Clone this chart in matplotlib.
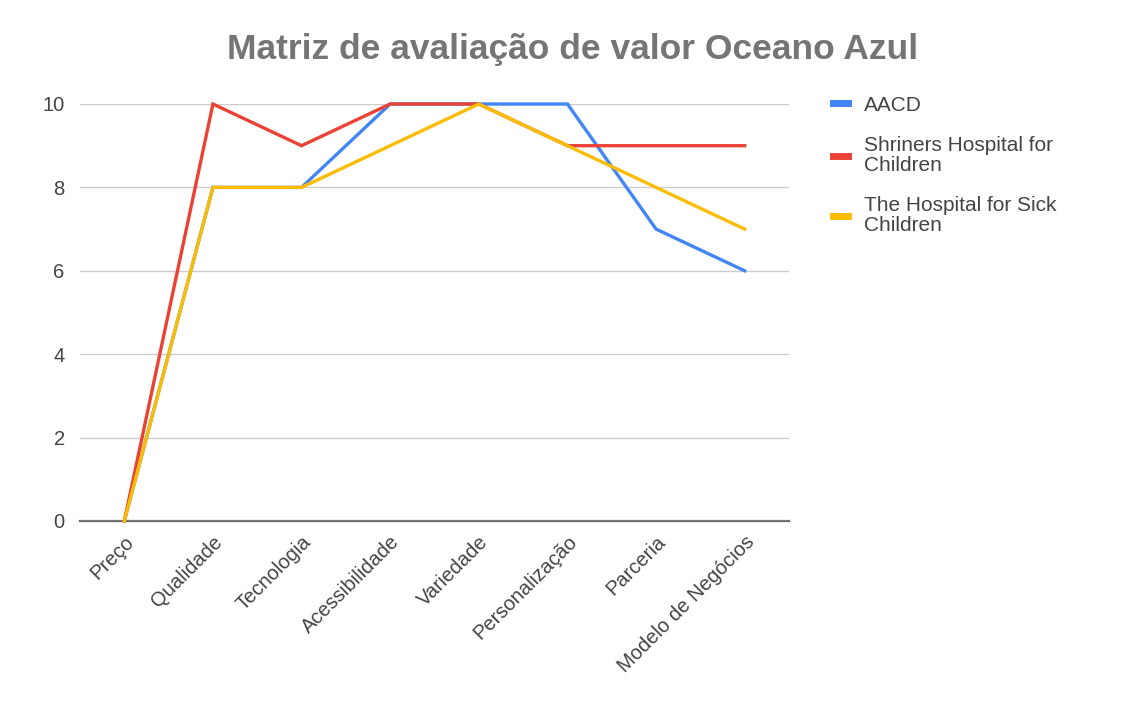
import matplotlib
matplotlib.use('Agg')
import matplotlib.pyplot as plt

plt.rcParams['font.family'] = ['Liberation Sans', 'DejaVu Sans']

categories = ['Preço', 'Qualidade', 'Tecnologia', 'Acessibilidade', 'Variedade',
              'Personalização', 'Parceria', 'Modelo de Negócios']
aacd = [0, 8, 8, 10, 10, 10, 7, 6]
shriners = [0, 10, 9, 10, 10, 9, 9, 9]
sick_children = [0, 8, 8, 9, 10, 9, 8, 7]
series_names = ['AACD', 'Shriners Hospital for\nChildren', 'The Hospital for Sick\nChildren']
series_colors = ['#4285f4', '#ea4335', '#fbbc04']

fig = plt.figure(figsize=(11.47, 7.11), dpi=100)
ax = fig.add_axes([80/1147, 1-521/711, (789-80)/1147, (521-104)/711])

x = range(len(categories))
for vals, name, c in zip([aacd, shriners, sick_children], series_names, series_colors):
    ax.plot(x, vals, color=c, lw=2.4, label=name, clip_on=False, solid_joinstyle='miter')

ax.set_xlim(-0.5, len(categories) - 0.5)
ax.set_ylim(0, 10)
ax.set_yticks([0, 2, 4, 6, 8, 10])
ax.grid(axis='y', color='#cccccc', lw=1)
ax.set_axisbelow(True)
for s in ['top', 'right', 'left']:
    ax.spines[s].set_visible(False)
ax.spines['bottom'].set_color('#666666')
ax.spines['bottom'].set_linewidth(1.6)
ax.spines['bottom'].set_zorder(0.5)
ax.tick_params(length=0, labelsize=14.5, labelcolor='#444444')
ax.tick_params(axis='y', pad=11)
ax.set_xticks(list(x))
ax.set_xticklabels(categories, rotation=45, ha='right', rotation_mode='anchor')
ax.tick_params(axis='x', pad=8)

fig.text(573/1147, 1-50/711, 'Matriz de avaliação de valor Oceano Azul',
         ha='center', va='center', fontsize=25.5, fontweight='bold', color='#757575')

leg = ax.legend(loc='upper left', bbox_to_anchor=(814/1147, 1-77/711),
                bbox_transform=fig.transFigure, frameon=False, fontsize=15,
                handlelength=0.75, handletextpad=0.75, labelspacing=1.0,
                labelcolor='#444444')
for h in leg.get_lines():
    h.set_linewidth(5)
for t in leg.get_texts():
    t.set_linespacing(1.1)

fig.savefig('out.png', dpi=100)
